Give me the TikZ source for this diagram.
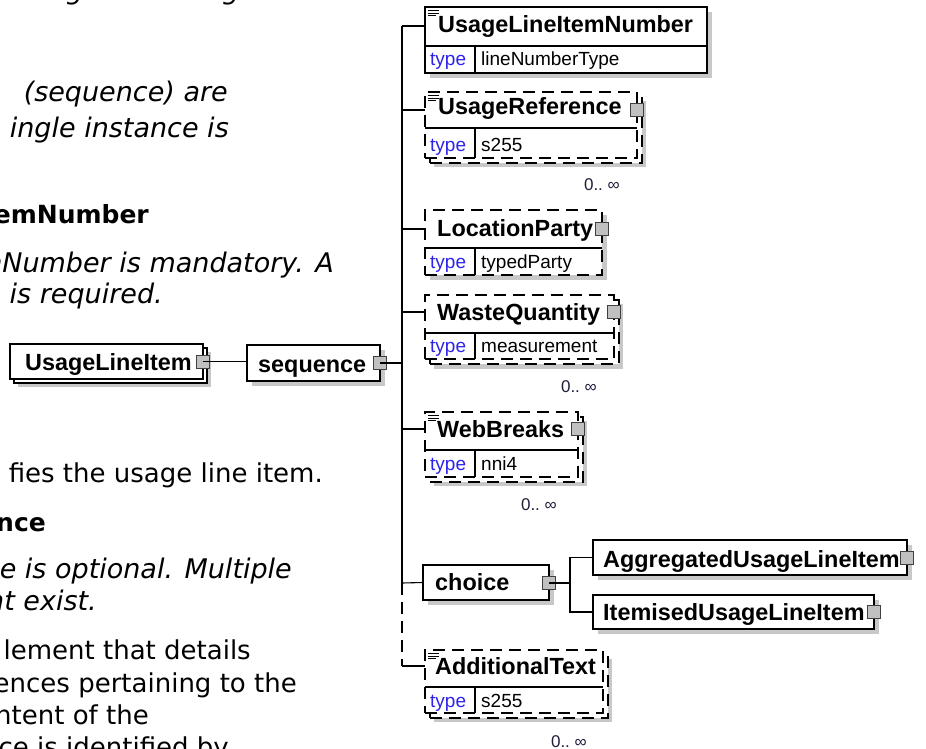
\documentclass[tikz,border=0pt]{standalone}
\usepackage{fontspec}
\setmainfont{DejaVu Sans}
\newfontfamily\boxfont{Liberation Sans}
\definecolor{shgray}{RGB}{200,200,200}
\definecolor{expgray}{RGB}{192,192,192}
\definecolor{typeblue}{RGB}{45,35,235}
\definecolor{occcol}{RGB}{30,30,60}
\begin{document}
\begin{tikzpicture}[x=1pt,y=-1pt,
  shd/.style={fill=shgray,draw=none},
  bx/.style={draw=black,line width=1.1pt,fill=white,inner sep=0pt,outer sep=0pt,anchor=north west},
  dbx/.style={bx,dash pattern=on 12pt off 7pt},
  nm/.style={font=\boxfont\bfseries\fontsize{23.4}{26}\selectfont,anchor=base west,inner sep=0pt},
  tp/.style={font=\boxfont\fontsize{19}{22}\selectfont,text=typeblue,anchor=base west,inner sep=0pt},
  tv/.style={font=\boxfont\fontsize{19}{22}\selectfont,anchor=base west,inner sep=0pt},
  occ/.style={font=\boxfont\fontsize{17}{20}\selectfont,text=occcol,anchor=base east,inner sep=0pt},
  expd/.style={draw=black!75,fill=expgray,line width=0.8pt,minimum size=13pt,inner sep=0pt},
  conn/.style={draw=black,line width=1.1pt},
  dconn/.style={conn,dash pattern=on 12pt off 7pt},
  sepl/.style={draw=black,line width=1.1pt},
  ann/.style={draw=black,line width=0.8pt},
  rtxt/.style={font=\fontsize{26}{31}\selectfont,anchor=base east,inner sep=0pt},
  itxt/.style={font=\itshape\fontsize{27}{31}\selectfont,anchor=base east,inner sep=0pt},
  btxt/.style={font=\bfseries\fontsize{25}{31}\selectfont,anchor=base east,inner sep=0pt}
]
\clip (0,0) rectangle (926,749);
\fill[white] (0,0) rectangle (926,749);

% ---------- left text ----------
\node[itxt] (p1) at (265,-0.5) {Usage\hspace{38pt}Message.};
\node[itxt] (p2) at (228,102) {(sequence) are};
\node[itxt] (p3) at (229,138) {ingle instance is};
\node[btxt] (p4) at (149,223) {emNumber};
\node[itxt] (p5) at (334,272) {nNumber is mandatory. A};
\node[itxt] (p6) at (163,303) {e is required.};
\node[rtxt] (p7) at (323,482) {fies the usage line item.};
\node[btxt] (p8) at (46,531) {nce};
\node[itxt] (p9) at (292,578) {ce is optional. Multiple};
\node[itxt] (p10) at (97,610) {nt exist.};
\node[rtxt] (p11) at (251,659) {lement that details};
\node[rtxt] (p12) at (297,692) {ences pertaining to the};
\node[rtxt] (p13) at (149,724) {ntent of the};
\node[rtxt] (p14) at (229,756) {ce is identified by};

% ---------- UsageLineItem ----------
\fill[shd] (18,352) rectangle (211,387);
\node[bx,minimum width=193pt,minimum height=35pt] (uliB) at (14,348) {};
\node[bx,minimum width=193pt,minimum height=35pt] (uli) at (10,344) {};
\node[nm] (uliT) at (25,370) {UsageLineItem};
\node[expd] (uliX) at (203,361.5) {};

% ---------- sequence ----------
\fill[shd] (252,350) rectangle (385,386);
\node[bx,minimum width=133pt,minimum height=36pt] (seq) at (247,345) {};
\node[nm] (seqT) at (258,372) {sequence};
\node[expd] (seqX) at (380,363) {};

% ---------- UsageLineItemNumber ----------
\fill[shd] (430,12) rectangle (712,78);
\node[bx,minimum width=282pt,minimum height=66pt] (uln) at (425,7) {};
\draw[sepl] (425,46) -- (707,46) (475,46) -- (475,73);
\draw[ann] (428,10.5) -- (439,10.5) (428,13) -- (439,13) (428,15.5) -- (436,15.5);
\node[nm] (ulnT) at (438,33) {UsageLineItemNumber};
\node[tp] (ulnP) at (430,66) {type};
\node[tv] (ulnV) at (481,66) {lineNumberType};

% ---------- UsageReference ----------
\fill[shd] (434,101) rectangle (646,167);
\node[dbx,minimum width=212pt,minimum height=66pt] (urfB) at (430,97) {};
\node[dbx,minimum width=212pt,minimum height=66pt] (urf) at (425,92) {};
\draw[sepl] (425,128) -- (637,128) (475,128) -- (475,158);
\draw[ann] (428,95.5) -- (439,95.5) (428,98) -- (439,98) (428,100.5) -- (436,100.5);
\node[nm] (urfT) at (438,115) {UsageReference};
\node[tp] (urfP) at (430,152) {type};
\node[tv] (urfV) at (481,152) {s255};
\node[expd] (urfX) at (637,110) {};
\node[occ] (urfO) at (620,190) {0..~∞};

% ---------- LocationParty ----------
\fill[shd] (430,215) rectangle (607,280);
\node[dbx,minimum width=177pt,minimum height=65pt] (lpt) at (425,210) {};
\draw[sepl] (425,248) -- (602,248) (475,248) -- (475,275);
\node[nm] (lptT) at (437,236) {LocationParty};
\node[tp] (lptP) at (430,268) {type};
\node[tv] (lptV) at (481,268) {typedParty};
\node[expd] (lptX) at (602,229) {};

% ---------- WasteQuantity ----------
\fill[shd] (434,304) rectangle (623,369);
\node[dbx,minimum width=189pt,minimum height=64pt] (wqB) at (430,300) {};
\node[dbx,minimum width=189pt,minimum height=64pt] (wq) at (425,295) {};
\draw[sepl] (425,333) -- (614,333) (475,333) -- (475,359);
\node[nm] (wqT) at (437,320) {WasteQuantity};
\node[tp] (wqP) at (430,352) {type};
\node[tv] (wqV) at (481,352) {measurement};
\node[expd] (wqX) at (614,312) {};
\node[occ] (wqO) at (597,392) {0..~∞};

% ---------- WebBreaks ----------
\fill[shd] (434,421) rectangle (587,486);
\node[dbx,minimum width=153pt,minimum height=65pt] (wbB) at (430,417) {};
\node[dbx,minimum width=153pt,minimum height=65pt] (wb) at (425,412) {};
\draw[sepl] (425,450) -- (578,450) (475,450) -- (475,477);
\draw[ann] (428,415.5) -- (439,415.5) (428,418) -- (439,418) (428,420.5) -- (436,420.5);
\node[nm] (wbT) at (437,437) {WebBreaks};
\node[tp] (wbP) at (430,470) {type};
\node[tv] (wbV) at (481,470) {nni4};
\node[expd] (wbX) at (578,429) {};
\node[occ] (wbO) at (557,510) {0..~∞};

% ---------- choice ----------
\fill[shd] (428,570) rectangle (554,605);
\node[bx,minimum width=126pt,minimum height=35pt] (ch) at (423,565) {};
\node[nm] (chT) at (435,590) {choice};
\node[expd] (chX) at (549,583) {};

% ---------- AggregatedUsageLineItem ----------
\fill[shd] (598,545) rectangle (912,580);
\node[bx,minimum width=314pt,minimum height=35pt] (agg) at (593,540) {};
\node[nm] (aggT) at (603,567) {AggregatedUsageLineItem};
\node[expd] (aggX) at (907,557.5) {};

% ---------- ItemisedUsageLineItem ----------
\fill[shd] (598,600) rectangle (879,634);
\node[bx,minimum width=281pt,minimum height=34pt] (itm) at (593,595) {};
\node[nm] (itmT) at (603,620) {ItemisedUsageLineItem};
\node[expd] (itmX) at (874,612) {};

% ---------- AdditionalText ----------
\fill[shd] (434,659) rectangle (612,722);
\node[dbx,minimum width=178pt,minimum height=63pt] (atB) at (430,655) {};
\node[dbx,minimum width=178pt,minimum height=63pt] (at) at (425,650) {};
\draw[sepl] (425,687) -- (603,687) (475,687) -- (475,713);
\draw[ann] (428,653.5) -- (439,653.5) (428,656) -- (439,656) (428,658.5) -- (436,658.5);
\node[nm] (atT) at (435,674) {AdditionalText};
\node[tp] (atP) at (430,707) {type};
\node[tv] (atV) at (481,707) {s255};
\node[occ] (atO) at (587,747) {0..~∞};

% ---------- connectors ----------
\coordinate (t0) at (402,26);
\coordinate (t1) at (402,110);
\coordinate (t2) at (402,229);
\coordinate (tq) at (402,363);
\coordinate (t3) at (402,312);
\coordinate (t4) at (402,429);
\coordinate (t5) at (402,583);
\coordinate (t6) at (402,666);
\coordinate (cb) at (570,583);

\draw[conn] (uliX.center) -- (uliX.center -| seq.west);
\draw[conn] (seqX.center) -- (tq);
\draw[conn] (t0) -- (t5);
\draw[dconn] (t5) -- (t6);
\draw[conn] (t0) -- (t0 -| uln.west);
\draw[conn] (t1) -- (t1 -| urf.west);
\draw[conn] (t2) -- (t2 -| lpt.west);
\draw[conn] (t3) -- (t3 -| wq.west);
\draw[conn] (t4) -- (t4 -| wb.west);
\draw[conn] (t5) -- (ch.west);
\draw[conn] (t6) -- (t6 -| at.west);
\draw[conn] (chX.center) -- (cb);
\draw[conn] (agg.west) -- (agg.west -| cb) -- (itm.west -| cb) -- (itm.west);
\end{tikzpicture}
\end{document}
